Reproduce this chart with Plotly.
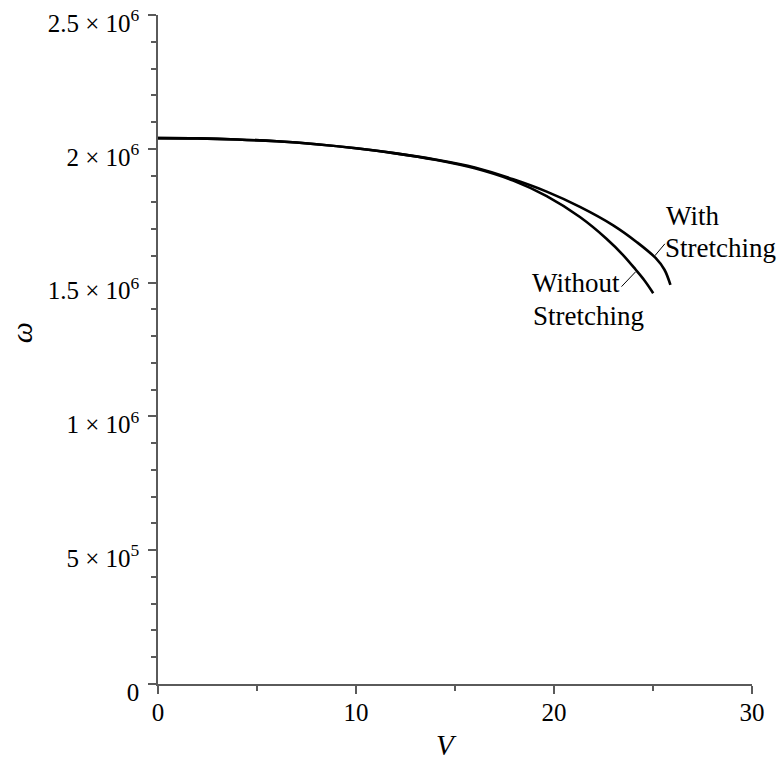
import plotly.graph_objects as go

# ---- data ----
V_with = [0, 2, 4, 6, 8, 10, 12, 14, 16, 17.94, 19.63, 21.31, 22.99, 24.17, 25.13, 25.58, 25.88]
W_with = [2.040e6, 2.039e6, 2.035e6, 2.028e6, 2.017e6, 2.002e6, 1.983e6, 1.960e6, 1.930e6,
          1.886e6, 1.840e6, 1.783e6, 1.714e6, 1.652e6, 1.592e6, 1.548e6, 1.4915e6]

V_without = [0, 2, 4, 6, 8, 10, 12, 14, 16, 17.94, 19.63, 21.31, 22.65, 23.49, 24.13, 24.58, 25.01]
W_without = [2.040e6, 2.039e6, 2.035e6, 2.028e6, 2.017e6, 2.002e6, 1.983e6, 1.959e6, 1.927e6,
             1.881e6, 1.823e6, 1.745e6, 1.664e6, 1.603e6, 1.548e6, 1.507e6, 1.4605e6]

y_tickvals = [0, 5e5, 1e6, 1.5e6, 2e6, 2.5e6]
y_ticktext = ["0", "5 × 10<sup>5</sup>", "1 × 10<sup>6</sup>", "1.5 × 10<sup>6</sup>",
              "2 × 10<sup>6</sup>", "2.5 × 10<sup>6</sup>"]
x_tickvals = [0, 10, 20, 30]
x_ticktext = ["0", "10", "20", "30"]

FONT = "Liberation Serif, Times New Roman, serif"
AX = "#5a5a5a"

fig = go.Figure()
fig.add_trace(go.Scatter(x=V_with, y=W_with, mode="lines", line=dict(color="black", width=2.6),
                         line_shape="spline", showlegend=False))
fig.add_trace(go.Scatter(x=V_without, y=W_without, mode="lines", line=dict(color="black", width=2.6),
                         line_shape="spline", showlegend=False))

axis_common = dict(showgrid=False, zeroline=False, showline=True, linecolor=AX, linewidth=1.5,
                   ticks="outside", ticklen=8, tickcolor=AX, tickwidth=1.5, automargin=False,
                   tickfont=dict(family=FONT, size=25, color="black"))

fig.update_xaxes(range=[0, 30], tickmode="array", tickvals=x_tickvals, ticktext=x_ticktext,
                 minor=dict(ticks="outside", ticklen=5, tickcolor=AX, tickwidth=1.5, dtick=5, tick0=0),
                 ticklabelstandoff=-3, **axis_common)
fig.update_yaxes(range=[0, 2.5e6 + 1], tickmode="array", tickvals=y_tickvals, ticktext=y_ticktext,
                 minor=dict(ticks="outside", ticklen=5, tickcolor=AX, tickwidth=1.5, dtick=1e5, tick0=0),
                 ticklabelstandoff=4, ticklabelshift=8, ticklabeloverflow="allow", **axis_common)

# leader lines
fig.add_shape(type="line", x0=25.09, y0=1.600e6, x1=25.60, y1=1.645e6,
              line=dict(color="black", width=1))
fig.add_shape(type="line", x0=23.41, y0=1.485e6, x1=24.13, y1=1.541e6,
              line=dict(color="black", width=1))

ann_font = dict(family=FONT, size=27, color="black")
for txt, x, y in [("With", 25.55, 1.75e6), ("Stretching", 25.50, 1.63e6),
                  ("Without", 18.80, 1.50e6), ("Stretching", 18.85, 1.375e6)]:
    fig.add_annotation(x=x, y=y, text=txt, showarrow=False, xanchor="left", yanchor="middle",
                       font=ann_font)

# axis titles
fig.add_annotation(xref="paper", yref="paper", x=(447 - 158) / 594.6, y=(684 - 745) / 669.3,
                   text="<i>V</i>", showarrow=False, font=dict(family=FONT, size=29, color="black"),
                   xanchor="center", yanchor="middle")
fig.add_annotation(xref="paper", yref="paper", x=(21 - 158) / 594.6, y=(684 - 333) / 669.3,
                   text="<i>ω</i>", showarrow=False, textangle=-90,
                   font=dict(family=FONT, size=30, color="black"),
                   xanchor="center", yanchor="middle")

fig.update_layout(width=780, height=764, margin=dict(l=158, r=28, t=15, b=80, autoexpand=False),
                  paper_bgcolor="white", plot_bgcolor="white")

fig.write_html("out.html")
